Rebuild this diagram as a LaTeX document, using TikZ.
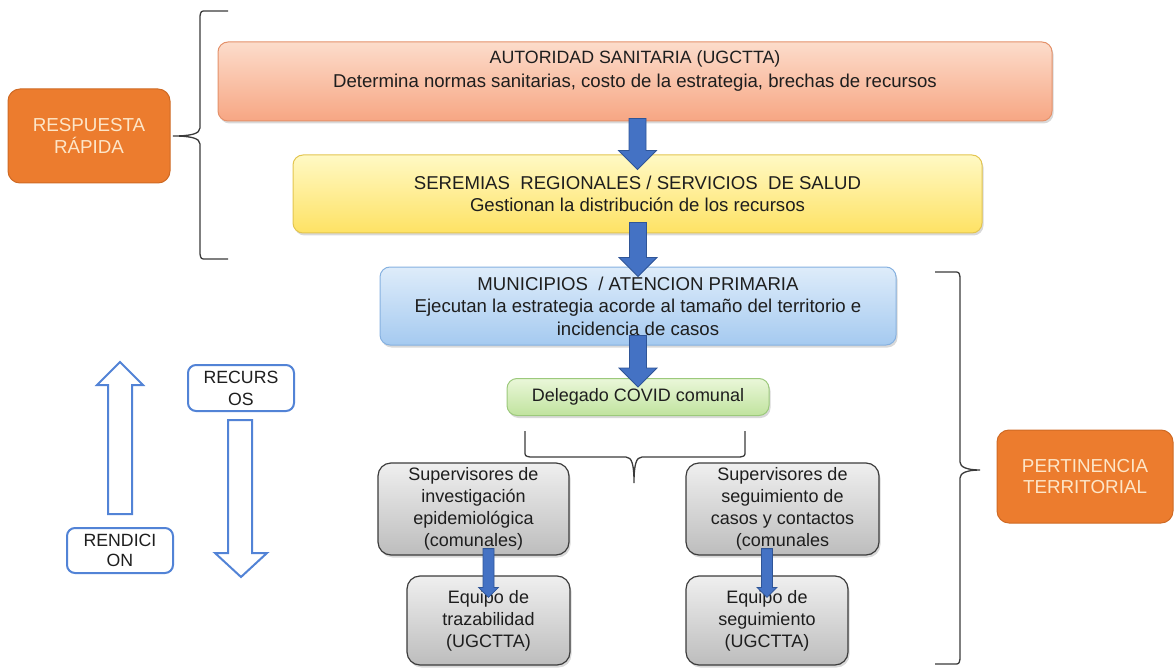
\documentclass[tikz,border=0pt]{standalone}
\usepackage{fontspec}
\setmainfont{Liberation Sans}
\usetikzlibrary{calc,shadows}
\definecolor{txt}{HTML}{1E1E1E}
\definecolor{orfill}{HTML}{EC7C2E}
\definecolor{ordraw}{HTML}{CF6A24}
\definecolor{ortxt}{HTML}{FDE6C8}
\definecolor{peachT}{HTML}{FCDCCB}
\definecolor{peachB}{HTML}{F7A683}
\definecolor{peachD}{HTML}{E4916A}
\definecolor{yelT}{HTML}{FFF9C4}
\definecolor{yelB}{HTML}{FEE264}
\definecolor{yelD}{HTML}{E3C550}
\definecolor{bluT}{HTML}{DEECFA}
\definecolor{bluB}{HTML}{A5CAF0}
\definecolor{bluD}{HTML}{86B1E0}
\definecolor{grnT}{HTML}{EAF7D9}
\definecolor{grnB}{HTML}{C0E39E}
\definecolor{grnD}{HTML}{9CC97C}
\definecolor{gryT}{HTML}{EFEFEF}
\definecolor{gryB}{HTML}{BDBDBD}
\definecolor{gryD}{HTML}{3C3C3C}
\definecolor{arrF}{HTML}{4472C4}
\definecolor{arrD}{HTML}{2F5597}
\definecolor{holl}{HTML}{5283D6}
\definecolor{brc}{HTML}{3A3A3A}
\newcommand{\blockarr}[6]{%
  \path[#6] let \p1=(#1), \p2=(#2) in
    (\x2-#3,\y1) -- (\x2+#3,\y1) -- (\x2+#3,\y2+#5) -- (\x2+#4,\y2+#5)
    -- (\x2,\y2) -- (\x2-#4,\y2+#5) -- (\x2-#3,\y2+#5) -- cycle;}
\begin{document}
\begin{tikzpicture}[x=1pt,y=-1pt,
  fnt/.style={font=\fontsize{18}{22}\selectfont},
  bigfnt/.style={font=\fontsize{18.6}{22.5}\selectfont},
  gbox/.style={fnt, rounded corners=10pt, inner sep=0pt, align=center, text=txt,
    line width=1pt, drop shadow={shadow xshift=1.5pt, shadow yshift=-2.5pt, opacity=0.3}},
  peach/.style={gbox, draw=peachD, top color=peachT, bottom color=peachB},
  yellow/.style={gbox, bigfnt, draw=yelD, top color=yelT, bottom color=yelB},
  lblue/.style={gbox, bigfnt, draw=bluD, top color=bluT, bottom color=bluB},
  green/.style={gbox, draw=grnD, top color=grnT, bottom color=grnB},
  gray/.style={gbox, rounded corners=13pt, draw=gryD, line width=1.2pt, top color=gryT, bottom color=gryB},
  orbox/.style={font=\fontsize{18.8}{21.5}\selectfont, rounded corners=12pt, inner sep=0pt, align=center,
    fill=orfill, draw=ordraw, line width=1pt, text=ortxt},
  tagbox/.style={font=\fontsize{17.7}{22}\selectfont, rounded corners=8pt, inner sep=0pt, align=center,
    draw=holl, line width=2pt, fill=white, text=txt},
  bigarrow/.style={fill=arrF, draw=arrD, line width=0.8pt, line join=miter},
  hollow/.style={draw=holl, line width=2pt, fill=white, line join=miter},
  brace/.style={draw=brc, line width=1.3pt}]
\useasboundingbox (0,0) rectangle (1174,668);

% main column
\node[peach, minimum width=834pt, minimum height=79pt] (aut) at (635,81.5) {};
\node[inner sep=0pt, align=center, text=txt, anchor=north, font=\fontsize{18.6}{24}\selectfont]
  (autt) at ($(aut.north)+(0,9.2)$)
  {{\fontsize{17.8}{24}\selectfont AUTORIDAD SANITARIA (UGCTTA)}\\Determina normas sanitarias, costo de la estrategia, brechas de recursos};
\node[yellow, minimum width=689pt, minimum height=78pt] (ser) at (637.5,194)
  {SEREMIAS\ \ REGIONALES / SERVICIOS\ \ DE SALUD\\Gestionan la distribución de los recursos};
\node[lblue, minimum width=516pt, minimum height=78pt] (mun) at (638,306)
  {MUNICIPIOS\ \ / ATENCION PRIMARIA\\Ejecutan la estrategia acorde al tamaño del territorio e\\incidencia de casos};
\node[green, minimum width=262pt, minimum height=37pt] (del) at (638,397) {Delegado COVID comunal};
\node[gray, minimum width=191pt, minimum height=92pt] (supl) at (473.5,509)
  {Supervisores de\\investigación\\epidemiológica\\(comunales)};
\node[gray, minimum width=193pt, minimum height=92pt] (supr) at (782.5,509)
  {Supervisores de\\seguimiento de\\casos y contactos\\(comunales};
\node[gray, minimum width=163pt, minimum height=89pt] (eql) at (488.5,620.5)
  {Equipo de\\trazabilidad\\(UGCTTA)};
\node[gray, minimum width=162pt, minimum height=89pt] (eqr) at (767,620.5)
  {Equipo de\\seguimiento\\(UGCTTA)};

% side boxes
\node[orbox, minimum width=162pt, minimum height=94pt] (resp) at (89,136) {RESPUESTA\\RÁPIDA};
\node[orbox, minimum width=176pt, minimum height=93pt] (pert) at (1085,476.5) {PERTINENCIA\\TERRITORIAL};
\node[tagbox, minimum width=106pt, minimum height=46pt] (recu) at (241,388) {RECURS\\OS};
\node[tagbox, minimum width=106pt, minimum height=45pt, font=\fontsize{17.7}{20.5}\selectfont] (rend) at (120,550.5) {RENDICI\\ON};

% block arrows
\blockarr{$(aut.south)+(0,-3)$}{$(ser.north)+(0,15)$}{8.5pt}{19pt}{19pt}{bigarrow}
\blockarr{$(ser.south)+(0,-11)$}{$(mun.north)+(0,10)$}{8.5pt}{19pt}{19pt}{bigarrow}
\blockarr{$(mun.south)+(0,-10)$}{$(del.north)+(0,9)$}{8.5pt}{19pt}{19pt}{bigarrow}
\blockarr{$(supl.south)+(0,-7)$}{$(eql.north)+(0,22)$}{5.5pt}{10pt}{10pt}{bigarrow}
\blockarr{$(supr.south)+(0,-7)$}{$(eqr.north)+(0,22)$}{5.5pt}{10pt}{10pt}{bigarrow}

% hollow arrows
\draw[hollow] (108,514) -- (132,514) -- (132,385) -- (143,385) -- (120,362) -- (97,385) -- (108,385) -- cycle;
\draw[hollow] (228,420) -- (252,420) -- (252,553) -- (267,553) -- (241,577) -- (215,553) -- (228,553) -- cycle;

% braces
\draw[brace] (228,11) -- (206,11) .. controls (201,11) .. (200,16) -- (200,128)
  .. controls (200,134) and (190,136) .. (173,136)
  .. controls (190,136) and (200,138) .. (200,144) -- (200,254)
  .. controls (201,259) .. (206,259) -- (228,259);
\draw[brace] (935,272) -- (954,272) .. controls (959,272) .. (960,277) -- (960,462)
  .. controls (960,467) and (967,470) .. (980,470)
  .. controls (967,470) and (960,473) .. (960,478) -- (960,659)
  .. controls (959,664) .. (954,664) -- (935,664);
\draw[brace] (525,431) -- (525,451) .. controls (525,456) .. (530,457) -- (626,457)
  .. controls (632,457) and (634,465) .. (634,483)
  .. controls (634,465) and (636,457) .. (642,457) -- (740,457)
  .. controls (745,456) .. (745,451) -- (745,431);
\end{tikzpicture}
\end{document}
